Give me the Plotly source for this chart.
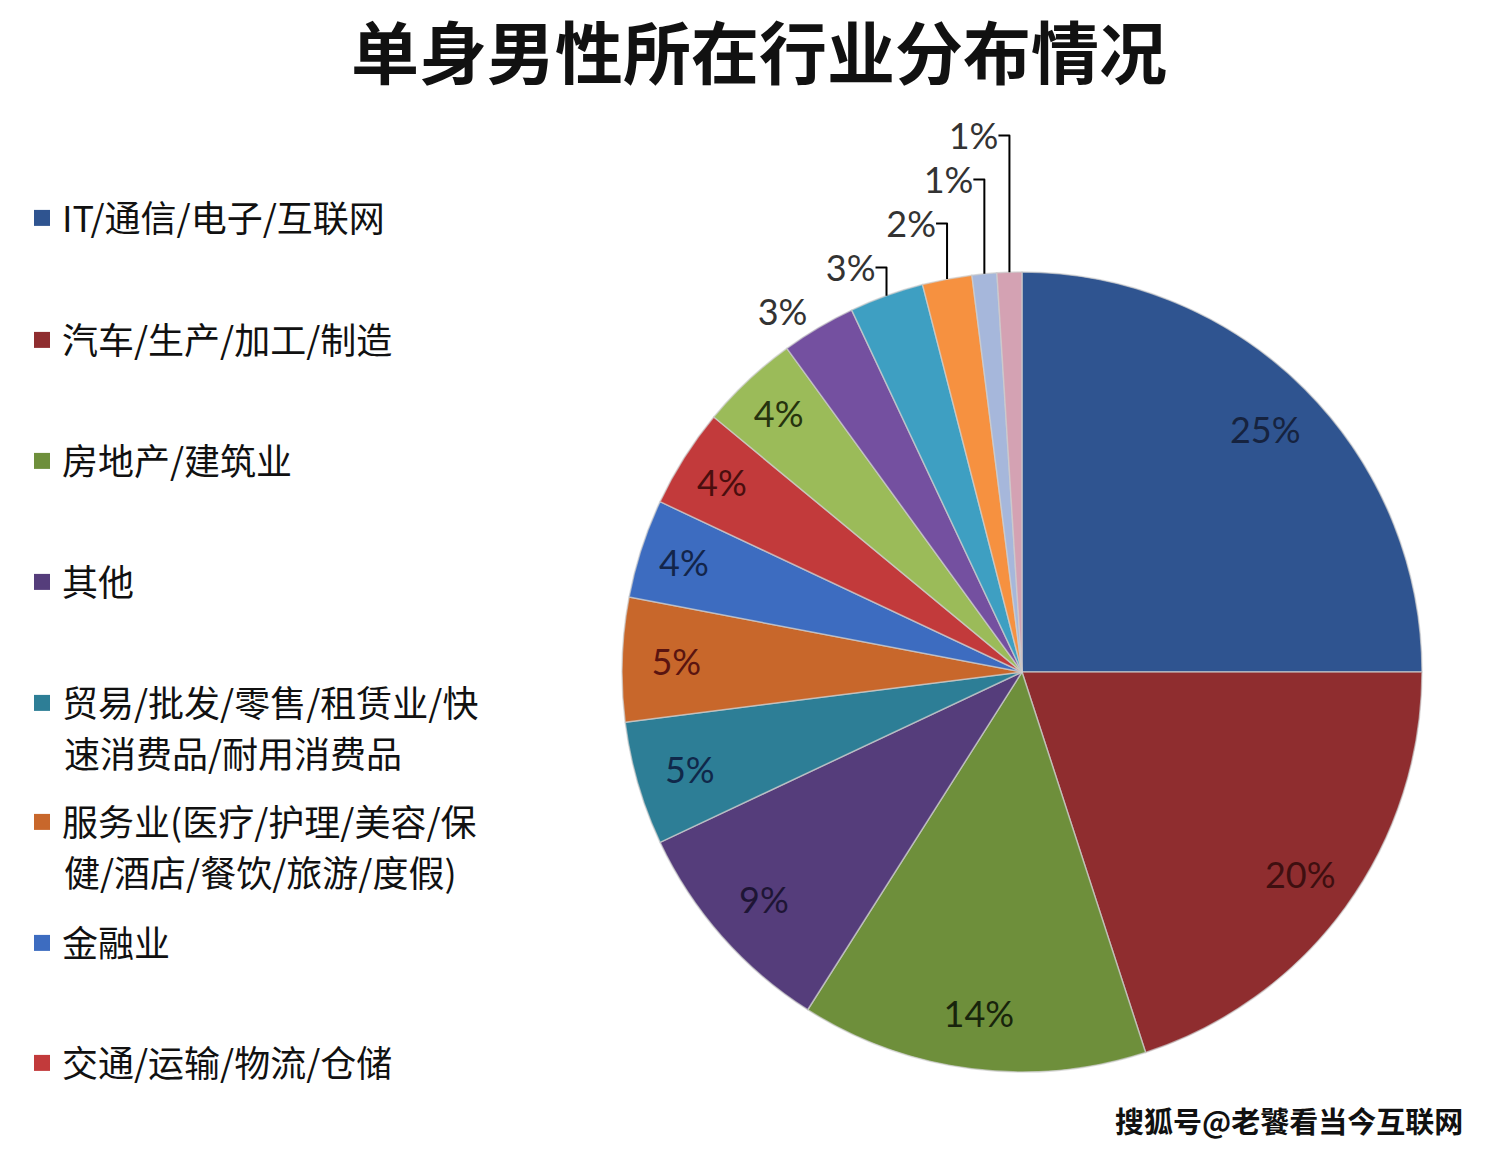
import plotly.graph_objects as go

title_text = "单身男性所在行业分布情况"
watermark = "搜狐号@老饕看当今互联网"

legend_names = [
    "IT/通信/电子/互联网",
    "汽车/生产/加工/制造",
    "房地产/建筑业",
    "其他",
    "贸易/批发/零售/租赁业/快",
    "服务业(医疗/护理/美容/保",
    "金融业",
    "交通/运输/物流/仓储",
]
legend_continuations = {4: "速消费品/耐用消费品", 5: "健/酒店/餐饮/旅游/度假)"}

shares = [25, 20, 14, 9, 5, 5, 4, 4, 4, 3, 3, 2, 1, 1]

slice_colors = [
    "#2F5490", "#8F2D2F", "#6E8F3B", "#553D7B", "#2D7E96", "#C8672B", "#3D6CC0",
    "#C23A3B", "#9BBB59", "#7450A0", "#3E9FC2", "#F69140", "#A6B7DB", "#D4A2B3",
]
label_colors = [
    "#16233F", "#3E0F10", "#18240C", "#1E1535", "#10284A", "#5A1410", "#13254A",
    "#4A0E0E", "#26330E", "#333333", "#333333", "#333333", "#333333", "#333333",
]
label_positions = ["inside"] * 9 + ["outside"] * 5

W, H = 1498, 1152
pie_domain = dict(x=[622 / W, 1422 / W], y=[1 - 1072 / H, 1 - 272 / H])

fig = go.Figure()
# coloured slices
fig.add_trace(go.Pie(
    values=shares,
    sort=False,
    direction="clockwise",
    rotation=0,
    marker=dict(colors=slice_colors, line=dict(color="rgba(205,205,205,0.7)", width=1.5)),
    textinfo="none",
    domain=pie_domain,
    showlegend=False,
    hoverinfo="skip",
))
# transparent ring carrying the percentage labels near the rim
fig.add_trace(go.Pie(
    values=shares,
    sort=False,
    direction="clockwise",
    rotation=0,
    hole=0.72,
    marker=dict(colors=["rgba(0,0,0,0)"] * len(shares), line=dict(width=0)),
    texttemplate="%{value}%",
    textposition=label_positions,
    textfont=dict(family="Lato", size=36, color=label_colors),
    insidetextorientation="horizontal",
    domain=pie_domain,
    showlegend=False,
    hoverinfo="skip",
))

legend_centers = [218, 340, 461, 582, 703, 822, 943, 1063]
layout_legends = {}
annotations = []
for i, name in enumerate(legend_names):
    key = "legend" if i == 0 else f"legend{i + 1}"
    fig.add_trace(go.Scatter(
        x=[None], y=[None], mode="markers",
        marker=dict(symbol="square", size=16, color=slice_colors[i]),
        name=name, legend=key, showlegend=True,
    ))
    layout_legends[key] = dict(
        x=22 / W, xanchor="left",
        y=1 - legend_centers[i] / H, yanchor="middle",
        font=dict(family="Noto Sans CJK SC", size=36, color="#111111"),
        bgcolor="rgba(0,0,0,0)",
    )
    if i in legend_continuations:
        annotations.append(dict(
            text=legend_continuations[i], x=62 / W, xanchor="left",
            y=1 - (legend_centers[i] + 49) / H, yanchor="middle",
            xref="paper", yref="paper", showarrow=False,
            font=dict(family="Noto Sans CJK SC", size=36, color="#111111"),
        ))

annotations.append(dict(
    text=watermark, x=1465 / W, xanchor="right", y=1 - 1120 / H, yanchor="middle",
    xref="paper", yref="paper", showarrow=False,
    font=dict(family="Noto Sans CJK SC", size=29, color="#111111", weight="bold",
              shadow="-1px -1px 0px #ffffff"),
))

fig.update_layout(
    width=W, height=H,
    margin=dict(l=0, r=0, t=0, b=0),
    paper_bgcolor="white",
    plot_bgcolor="white",
    xaxis=dict(visible=False),
    yaxis=dict(visible=False),
    title=dict(
        text=title_text, x=759 / W, xanchor="center", y=1 - 55 / H, yanchor="middle",
        font=dict(family="Noto Sans CJK SC", size=68, color="#111111", weight="bold"),
    ),
    annotations=annotations,
    **layout_legends,
)

fig.write_html("out.html")
